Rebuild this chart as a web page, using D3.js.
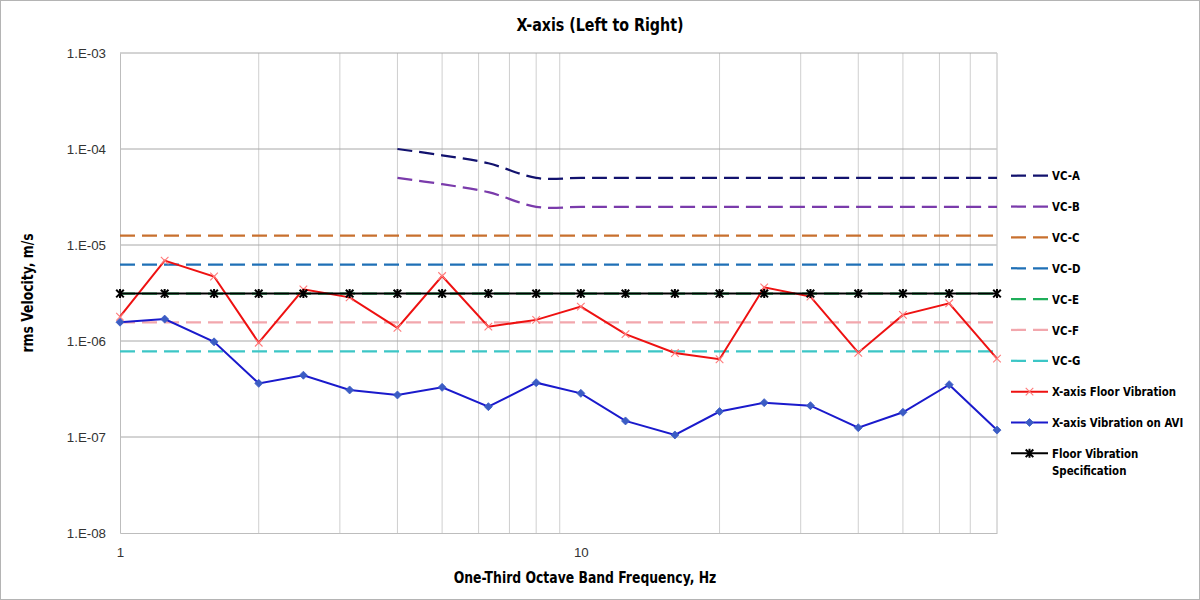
<!DOCTYPE html>
<html>
<head>
<meta charset="utf-8">
<script src="https://cdn.jsdelivr.net/npm/d3@7"></script>
<style>
  html, body { margin: 0; padding: 0; background: #fff; }
  svg { display: block; }
  .narrow { font-family: "Liberation Sans Narrow", "Arial Narrow", "DejaVu Sans Condensed", sans-serif; font-weight: bold; fill: #000; }
</style>
</head>
<body>
<script>
// ---- DATA ----
const bands = [1, 1.25, 1.6, 2, 2.5, 3.15, 4, 5, 6.3, 8, 10, 12.5, 16, 20, 25, 31.5, 40, 50, 63, 80];
const vcBands = [4, 5, 6.3, 8, 10, 12.5, 16, 20, 25, 31.5, 40, 50, 63, 80];
const vcA = [1.0e-4, 8.6e-5, 7.1e-5, 5.0e-5, 5.0e-5, 5.0e-5, 5.0e-5, 5.0e-5, 5.0e-5, 5.0e-5, 5.0e-5, 5.0e-5, 5.0e-5, 5.0e-5];
const vcB = [5.0e-5, 4.3e-5, 3.55e-5, 2.5e-5, 2.5e-5, 2.5e-5, 2.5e-5, 2.5e-5, 2.5e-5, 2.5e-5, 2.5e-5, 2.5e-5, 2.5e-5, 2.5e-5];
const vcC = bands.map(() => 12.5e-6);
const vcD = bands.map(() => 6.25e-6);
const vcE = bands.map(() => 3.12e-6);
const vcF = bands.map(() => 1.56e-6);
const vcG = bands.map(() => 0.78e-6);
const floorVib = [1.79e-6, 6.87e-6, 4.7e-6, 0.96e-6, 3.45e-6, 2.85e-6, 1.37e-6, 4.75e-6, 1.41e-6, 1.66e-6, 2.28e-6, 1.18e-6, 0.75e-6, 0.645e-6, 3.62e-6, 2.9e-6, 0.755e-6, 1.87e-6, 2.47e-6, 0.655e-6];
const aviVib = [1.57e-6, 1.69e-6, 0.98e-6, 0.362e-6, 0.44e-6, 0.309e-6, 0.274e-6, 0.329e-6, 0.207e-6, 0.368e-6, 0.285e-6, 0.147e-6, 0.105e-6, 0.184e-6, 0.228e-6, 0.212e-6, 0.125e-6, 0.181e-6, 0.351e-6, 0.118e-6];
const floorSpec = bands.map(() => 3.12e-6);
const yTicks = [1e-3, 1e-4, 1e-5, 1e-6, 1e-7, 1e-8];
const yTickLabels = ["1.E-03", "1.E-04", "1.E-05", "1.E-06", "1.E-07", "1.E-08"];
const xTicks = [1, 10];
const xTickLabels = ["1", "10"];
const xGrid = [2, 3, 4, 5, 6, 7, 8, 9, 20, 30, 40, 50, 60, 70, 80];
const legendNames = ["VC-A", "VC-B", "VC-C", "VC-D", "VC-E", "VC-F", "VC-G", "X-axis Floor Vibration", "X-axis Vibration on AVI", "Floor Vibration Specification"];

// ---- SERIES STYLE ----
const series = [
  { name: legendNames[0], x: vcBands, y: vcA, color: "#12126e", dash: true, smooth: true },
  { name: legendNames[1], x: vcBands, y: vcB, color: "#7a3bab", dash: true, smooth: true },
  { name: legendNames[2], x: bands, y: vcC, color: "#c8702e", dash: true },
  { name: legendNames[3], x: bands, y: vcD, color: "#1f70b6", dash: true },
  { name: legendNames[4], x: bands, y: vcE, color: "#1fae5a", dash: true },
  { name: legendNames[5], x: bands, y: vcF, color: "#f2a7ad", dash: true },
  { name: legendNames[6], x: bands, y: vcG, color: "#3cc6c6", dash: true },
  { name: legendNames[7], x: bands, y: floorVib, color: "#ee1111", marker: "x", markerColor: "#ff7a7a" },
  { name: legendNames[9], x: bands, y: floorSpec, color: "#000000", marker: "star", markerColor: "#000000" },
  { name: legendNames[8], x: bands, y: aviVib, color: "#1a1acc", marker: "diamond", markerColor: "#3b5cc4" }
];

const W = 1200, H = 600;
const plot = { left: 120, right: 997, top: 53, bottom: 533 };

const svg = d3.select("body").append("svg").attr("width", W).attr("height", H);

svg.append("rect").attr("x", 0.5).attr("y", 0.5).attr("width", W - 1).attr("height", H - 1)
  .attr("fill", "#fff").attr("stroke", "#b4b4b4");

const x = d3.scaleLog().domain([1, 80]).range([plot.left, plot.right]);
const y = d3.scaleLog().domain([1e-8, 1e-3]).range([plot.bottom, plot.top]);

// vertical minor grid
svg.append("g").selectAll("line").data(xGrid).join("line")
  .attr("x1", d => x(d)).attr("x2", d => x(d))
  .attr("y1", plot.top).attr("y2", plot.bottom)
  .attr("stroke", "#cfcfcf").attr("stroke-width", 1);

// horizontal major grid
svg.append("g").selectAll("line").data(yTicks.slice(0, -1)).join("line")
  .attr("x1", plot.left).attr("x2", plot.right)
  .attr("y1", d => y(d)).attr("y2", d => y(d))
  .attr("stroke", "#a8a8a8").attr("stroke-width", 1);

// axes
const yAxis = d3.axisLeft(y).tickValues(yTicks).tickFormat((d, i) => yTickLabels[i]).tickSize(0).tickPadding(14);
const gy = svg.append("g").attr("transform", `translate(${plot.left},0)`).call(yAxis);
gy.select(".domain").attr("stroke", "#bdbdbd");
gy.selectAll(".tick text").attr("font-family", "Liberation Sans, Arial, sans-serif").attr("font-size", 13.3).attr("fill", "#333");

const xAxis = d3.axisBottom(x).tickValues(xTicks).tickFormat((d, i) => xTickLabels[i]).tickSize(0).tickPadding(15);
const gx = svg.append("g").attr("transform", `translate(0,${plot.bottom})`).call(xAxis);
gx.select(".domain").attr("stroke", "#bdbdbd");
gx.selectAll(".tick text").attr("font-family", "Liberation Sans, Arial, sans-serif").attr("font-size", 13.3).attr("fill", "#333");

svg.append("line").attr("x1", plot.right).attr("x2", plot.right).attr("y1", plot.top).attr("y2", plot.bottom)
  .attr("stroke", "#d4d4d4");

const gLines = svg.append("g");

function markerPath(type) {
  if (type === "x") return "M-3.8,-3.8L3.8,3.8M-3.8,3.8L3.8,-3.8";
  if (type === "star") return "M-3.8,-3.8L3.8,3.8M-3.8,3.8L3.8,-3.8M0,-4.5L0,4.5";
  if (type === "diamond") return "M0,-4L4,0L0,4L-4,0Z";
  return "";
}
function markerStroke(type) { return type === "star" ? 2 : (type === "diamond" ? 0.8 : 1.1); }

series.forEach(s => {
  const pts = s.x.map((xv, i) => [x(xv), y(s.y[i])]);
  const line = d3.line().curve(s.smooth ? d3.curveCardinal.tension(0) : d3.curveLinear);
  gLines.append("path").attr("d", line(pts)).attr("fill", "none")
    .attr("stroke", s.color)
    .attr("stroke-width", s.dash ? 2.25 : 2)
    .attr("stroke-dasharray", s.dash ? "15,7" : null);
  if (s.marker) {
    gLines.append("g").selectAll("path").data(pts).join("path")
      .attr("transform", d => `translate(${d[0]},${d[1]})`)
      .attr("d", markerPath(s.marker))
      .attr("fill", s.marker === "diamond" ? s.markerColor : "none")
      .attr("stroke", s.markerColor)
      .attr("stroke-width", markerStroke(s.marker));
  }
});

// condensed bold text helper
function narrowText(parent, tx, ty, size, sx, anchor, rot) {
  return parent.append("text").attr("class", "narrow")
    .attr("transform", `translate(${tx},${ty})` + (rot ? ` rotate(${rot})` : "") + ` scale(${sx},1)`)
    .attr("text-anchor", anchor || "start").attr("font-size", size);
}

// legend
const legendOrder = [0, 1, 2, 3, 4, 5, 6, 7, 9, 8];
const lg = svg.append("g");
const ly0 = 175.7, lstep = 30.85;
legendOrder.forEach((si, i) => {
  const s = series[si];
  const yy = ly0 + i * lstep;
  const g = lg.append("g").attr("transform", `translate(0,${yy})`);
  g.append("line").attr("x1", 1011).attr("x2", 1048).attr("y1", 0).attr("y2", 0)
    .attr("stroke", s.color).attr("stroke-width", s.dash ? 2.25 : 2)
    .attr("stroke-dasharray", s.dash ? "15,7" : null);
  if (s.marker) {
    g.append("path").attr("transform", "translate(1029.5,0)").attr("d", markerPath(s.marker))
      .attr("fill", s.marker === "diamond" ? s.markerColor : "none")
      .attr("stroke", s.markerColor)
      .attr("stroke-width", markerStroke(s.marker));
  }
  const words = s.name === "Floor Vibration Specification" ? ["Floor Vibration", "Specification"] : [s.name];
  const t = narrowText(g, 1052, 0, 13, 0.875);
  words.forEach((w, k) => {
    t.append("tspan").attr("x", 0).attr("dy", k === 0 ? "0.36em" : "17").text(w);
  });
});

// titles
narrowText(svg, 600, 31, 18, 0.88, "middle").text("X-axis (Left to Right)");
narrowText(svg, 585, 583, 15.5, 0.89, "middle").text("One-Third Octave Band Frequency, Hz");
narrowText(svg, 33, 293, 15.5, 0.89, "middle", -90).text("rms Velocity, m/s");
</script>
</body>
</html>
